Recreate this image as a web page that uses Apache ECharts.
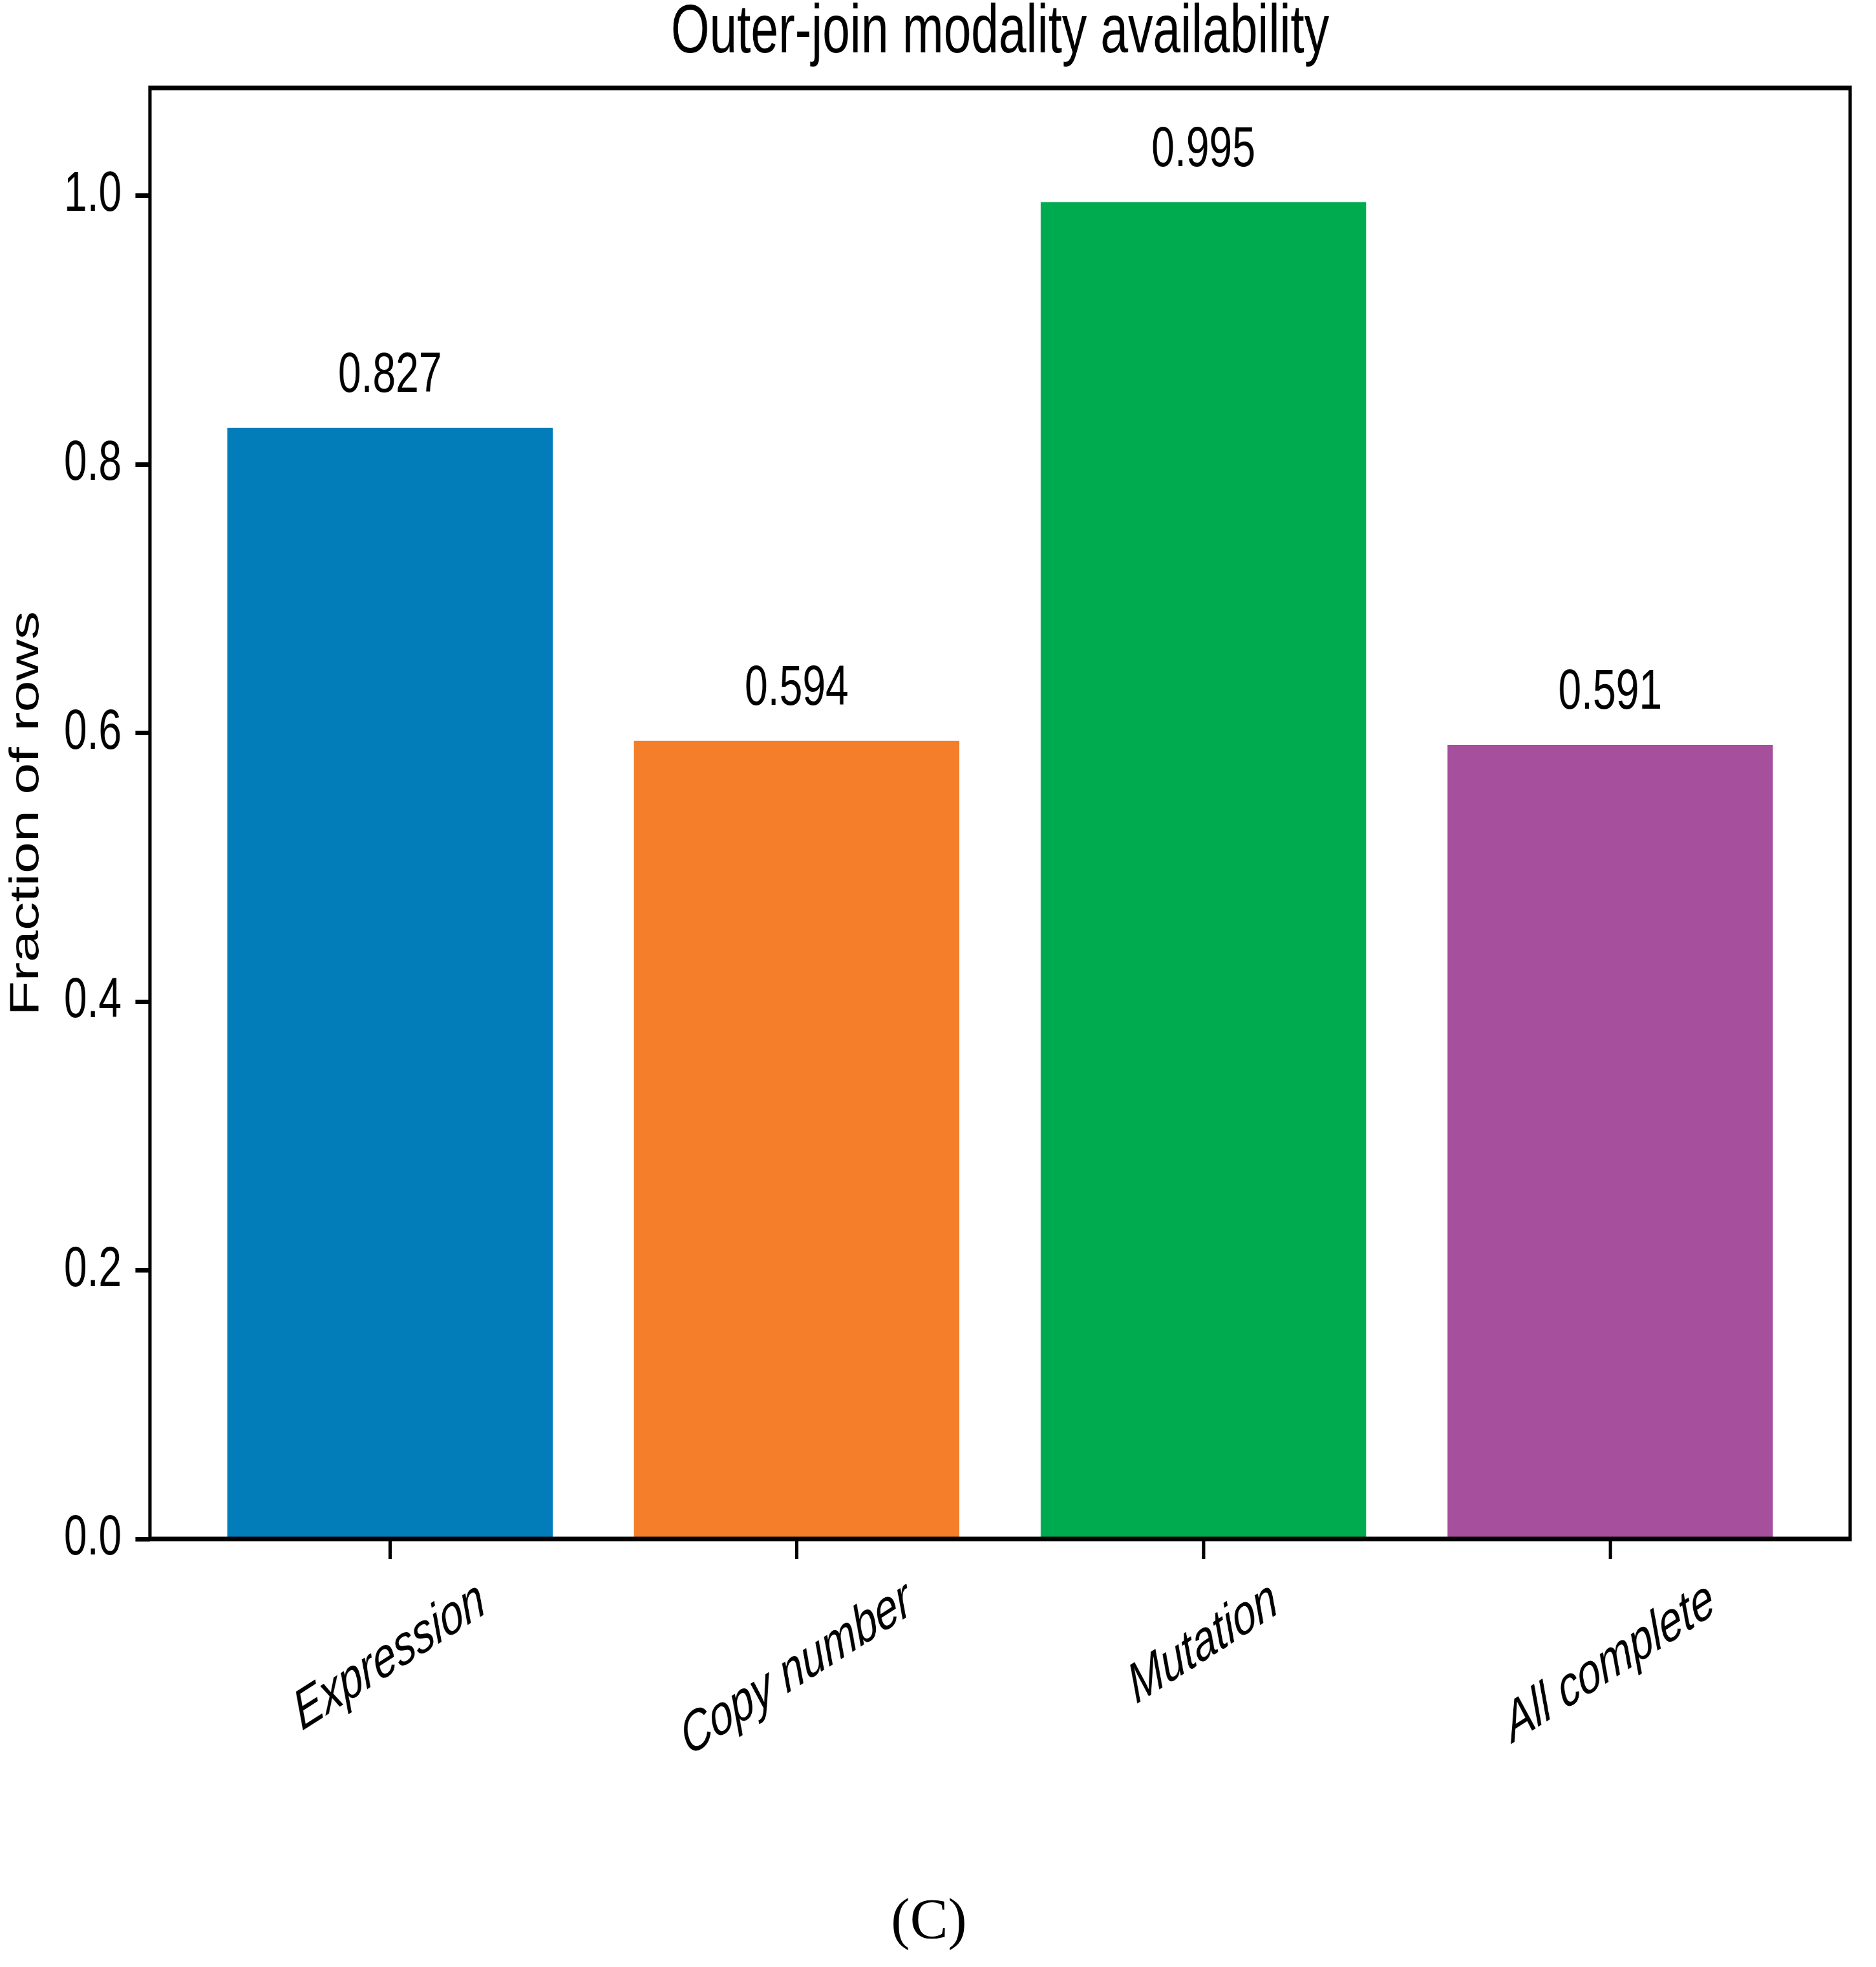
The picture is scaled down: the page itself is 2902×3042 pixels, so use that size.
<!DOCTYPE html>
<html>
<head>
<meta charset="utf-8">
<script src="https://cdn.jsdelivr.net/npm/echarts@6/dist/echarts.min.js"></script>
<style>
  html, body { margin: 0; padding: 0; background: #ffffff; overflow: hidden; }
  #wrap { position: absolute; left: 0; top: 0; width: 2902px; height: 3042px; overflow: hidden; }
  #chart { position: absolute; left: 0; top: 0; transform-origin: 0 0; }
  #caption { position: absolute; left: 0; top: 2900px; width: 2902px; height: 142px; }
</style>
</head>
<body>
<div id="wrap">
  <div id="chart"></div>
  <div id="caption"></div>
</div>
<script>
// ---- data ----
const categories = ['Expression', 'Copy number', 'Mutation', 'All complete'];
const values = [0.827, 0.594, 0.995, 0.591];
const barColors = ['#027DBA', '#F57E2A', '#00AA4E', '#A64F9C'];
const yTicks = [0, 0.2, 0.4, 0.6, 0.8, 1.0];
const yMax = 1.08;
const titleText = 'Outer-join modality availability';
const yName = 'Fraction of rows';
const captionText = '(C)';

// ---- layout (figure is horizontally squeezed in the reference) ----
const squeeze = 0.73;
const W = 2902 / squeeze;
const H = 3042;
const FONT = '"Liberation Sans", Arial, Helvetica, sans-serif';
const fs = 88;
const xfs = 88;
const rotDeg = 25;
const axLeft = 317.8, axRight = 3920.5, axTop = 136, axBottom = 2380;
const nCat = categories.length;
const margin = 0.59 - 0.5; // matplotlib default x-margin beyond half-band, in category units
const band = (axRight - axLeft) / (nCat - 1 + 2 * 0.59);
const gLeft = axLeft + margin * band;
const gWidth = band * nCat;

const el = document.getElementById('chart');
el.style.width = W + 'px';
el.style.height = H + 'px';
el.style.transform = 'scaleX(' + squeeze + ')';

// measure label lengths to emulate centered rotated labels (matplotlib ha='center')
const th = rotDeg * Math.PI / 180;
const cv = document.createElement('canvas').getContext('2d');
cv.font = 'italic ' + xfs + 'px ' + FONT;
const xData = categories.map(function (c) {
  const L = cv.measureText(c).width;
  const v = L * Math.sin(th) / 2;
  return {
    value: c,
    textStyle: {
      align: 'center', verticalAlign: 'top',
      fontFamily: FONT, fontSize: xfs, fontStyle: 'italic', color: '#000',
      lineHeight: 2 * v * Math.cos(th),
      padding: [0, 2 * v * Math.sin(th), 0, 0]
    }
  };
});

const chart = echarts.init(el, null, { width: W, height: H });
chart.setOption({
  animation: false,
  backgroundColor: '#ffffff',
  title: {
    text: titleText,
    left: (axLeft + axRight) / 2,
    top: 0,
    textAlign: 'center',
    padding: 0,
    textStyle: { fontFamily: FONT, fontSize: 105, fontWeight: 'normal', color: '#000', lineHeight: 105 }
  },
  grid: [
    { left: gLeft, width: gWidth, top: axTop, height: axBottom - axTop, containLabel: false },
    { left: axLeft, width: axRight - axLeft, top: axTop, height: axBottom - axTop,
      show: true, borderColor: '#000', borderWidth: 7, backgroundColor: 'transparent', z: 5 }
  ],
  xAxis: [
    {
      type: 'category', gridIndex: 0, data: xData,
      axisLine: { show: false },
      axisTick: { show: true, alignWithLabel: true, length: 31, lineStyle: { color: '#000', width: 7 } },
      axisLabel: {
        interval: 0, rotate: rotDeg, align: 'center', verticalAlign: 'top', margin: 91,
        fontFamily: FONT, fontSize: xfs, fontStyle: 'italic', color: '#000'
      },
      splitLine: { show: false }
    },
    { type: 'value', gridIndex: 1, show: false, min: 0, max: 1 }
  ],
  yAxis: [
    {
      type: 'value', gridIndex: 0, min: 0, max: yMax, interval: 0.2,
      offset: gLeft - axLeft,
      name: yName, nameLocation: 'middle', nameRotate: 90, nameGap: 217,
      nameTextStyle: { fontFamily: FONT, fontSize: fs, color: '#000', lineHeight: fs },
      axisLine: { show: false },
      axisTick: { show: true, length: 31, customValues: yTicks, lineStyle: { color: '#000', width: 7 } },
      axisLabel: {
        customValues: yTicks, margin: 60, fontFamily: FONT, fontSize: fs, color: '#000',
        formatter: function (v) { return v.toFixed(1); }
      },
      splitLine: { show: false }
    },
    { type: 'value', gridIndex: 1, show: false, min: 0, max: 1 }
  ],
  series: [{
    type: 'bar', xAxisIndex: 0, yAxisIndex: 0,
    barWidth: '80%',
    data: values.map(function (v, i) { return { value: v, itemStyle: { color: barColors[i] } }; }),
    label: {
      show: true, position: 'top', distance: 36,
      fontFamily: FONT, fontSize: fs, lineHeight: fs, color: '#000',
      formatter: function (p) { return p.value.toFixed(3); }
    }
  }]
});

const cap = echarts.init(document.getElementById('caption'), null, { width: 2902, height: 142 });
cap.setOption({
  animation: false,
  title: {
    text: captionText, left: 1437, top: 30, textAlign: 'center', padding: 0,
    textStyle: { fontFamily: '"Liberation Serif", "Times New Roman", serif', fontSize: 88, fontWeight: 'normal', color: '#000', lineHeight: 88 }
  }
});
</script>
</body>
</html>
